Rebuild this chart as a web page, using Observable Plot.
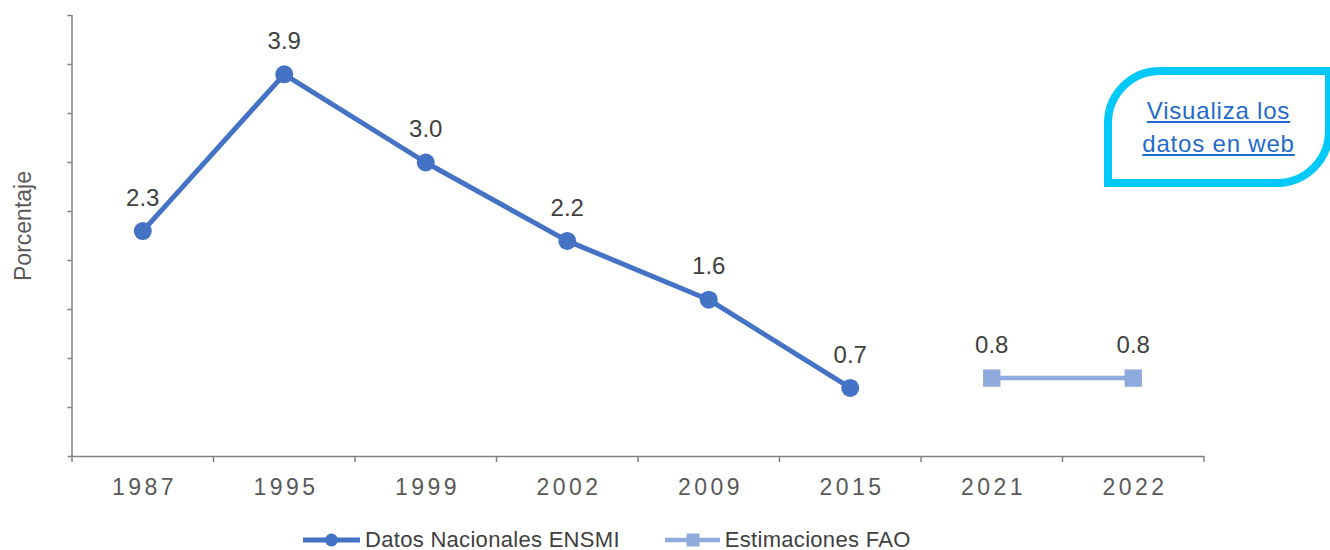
<!DOCTYPE html>
<html>
<head>
<meta charset="utf-8">
<script src="https://cdn.jsdelivr.net/npm/d3@7"></script>
<script src="https://cdn.jsdelivr.net/npm/@observablehq/plot@0.6"></script>
<style>
  html, body { margin: 0; padding: 0; background: #fff; overflow: hidden; }
  body { width: 1330px; height: 550px; position: relative; font-family: "Liberation Sans", Arial, sans-serif; }
  #chart svg { display: block; }
  #legend { position: absolute; left: 303px; top: 527px; height: 26px; display: flex; align-items: center; font-size: 22px; color: #404040; letter-spacing: 0.3px; }
  #legend .item { display: flex; align-items: center; }
  #legend .item svg { display: block; margin-right: 5px; }
  #webbox { position: absolute; left: 1104px; top: 67px; width: 229px; height: 120px; box-sizing: border-box;
    border: 8px solid #00C8F8; border-top-left-radius: 56px; border-bottom-right-radius: 56px;
    display: flex; flex-direction: column; align-items: center; justify-content: center; }
  #webbox a { color: #1F6BC8; font-size: 24px; line-height: 33px; text-decoration: underline; letter-spacing: 0.8px; text-align: center; }
</style>
</head>
<body>
<div id="chart"></div>
<div id="legend"></div>
<div id="webbox"><a>Visualiza los<br>datos en web</a></div>
<script>
// ---- data ----
const years = ["1987", "1995", "1999", "2002", "2009", "2015", "2021", "2022"];
const ensmiYears = ["1987", "1995", "1999", "2002", "2009", "2015"];
const ensmiValues = [2.3, 3.9, 3.0, 2.2, 1.6, 0.7];
const faoYears = ["2021", "2022"];
const faoValues = [0.8, 0.8];
const yTicks = [0, 0.5, 1, 1.5, 2, 2.5, 3, 3.5, 4, 4.5];
const seriesNames = ["Datos Nacionales ENSMI", "Estimaciones FAO"];
const yLabel = "Porcentaje";

// ---- derived tables ----
const ensmi = ensmiYears.map((y, i) => ({idx: years.indexOf(y), v: ensmiValues[i]}));
const fao = faoYears.map((y, i) => ({idx: years.indexOf(y), v: faoValues[i]}));
const centers = years.map((_, i) => i);
const bounds = years.map((_, i) => i - 0.5).concat([years.length - 0.5]);

const c1 = "#4472C4", c2 = "#8FAADC", axisColor = "#808080";

const plot = Plot.plot({
  width: 1330,
  height: 527,
  marginLeft: 71.5,
  marginRight: 126.5,
  marginTop: 15,
  marginBottom: 71,
  style: {fontFamily: "'Liberation Sans', Arial, sans-serif", background: "#fff"},
  x: {domain: [-0.5, years.length - 0.5]},
  y: {domain: [0, 4.5]},
  marks: [
    Plot.axisY({ticks: yTicks, tickSize: 4, tickFormat: () => "", stroke: axisColor, strokeWidth: 1.5,
      label: yLabel, labelAnchor: "center", labelArrow: "none", labelOffset: 57, fontSize: 23, color: "#595959"}),
    Plot.axisX({ticks: bounds, tickSize: 6, tickFormat: () => "", stroke: axisColor, strokeWidth: 1.5, label: null}),
    Plot.axisX({ticks: centers, tickSize: 0, tickPadding: 22, tickFormat: i => years[i], fontSize: 23, fill: "#595959", label: null}),
    Plot.ruleY([0], {stroke: axisColor, strokeWidth: 1.5}),
    Plot.ruleX([-0.5], {stroke: axisColor, strokeWidth: 1.5}),
    Plot.line(ensmi, {x: "idx", y: "v", stroke: c1, strokeWidth: 5}),
    Plot.dot(ensmi, {x: "idx", y: "v", r: 9, fill: c1, stroke: "none"}),
    Plot.line(fao, {x: "idx", y: "v", stroke: c2, strokeWidth: 4.5}),
    Plot.dot(fao, {x: "idx", y: "v", r: 9.8, symbol: "square", fill: c2, stroke: "none"}),
    Plot.text(ensmi.concat(fao), {x: "idx", y: "v", text: d => d.v.toFixed(1), dy: -33, fontSize: 24, fill: "#404040"})
  ]
});
document.getElementById("chart").appendChild(plot);
d3.select(plot).selectAll('g[aria-label="x-axis tick label"] text').attr("letter-spacing", 3.5).attr("dx", 1.75);
const yl = d3.select(plot).select('g[aria-label="y-axis label"]');
if (!yl.empty()) yl.attr("transform", (yl.attr("transform") || "") + " translate(0,-10)");

// ---- legend ----
const legend = d3.select("#legend");
const it1 = legend.append("div").attr("class", "item").style("margin-right", "45px");
const s1 = it1.append("svg").attr("width", 57).attr("height", 20);
s1.append("line").attr("x1", 0).attr("x2", 57).attr("y1", 10).attr("y2", 10).attr("stroke", c1).attr("stroke-width", 5).attr("stroke-linecap", "round");
s1.append("circle").attr("cx", 28.5).attr("cy", 10).attr("r", 6.5).attr("fill", c1);
it1.append("span").text(seriesNames[0]);
const it2 = legend.append("div").attr("class", "item");
const s2 = it2.append("svg").attr("width", 55).attr("height", 20);
s2.append("line").attr("x1", 0).attr("x2", 55).attr("y1", 10).attr("y2", 10).attr("stroke", c2).attr("stroke-width", 4.5).attr("stroke-linecap", "round");
s2.append("rect").attr("x", 21.5).attr("y", 3.5).attr("width", 13).attr("height", 13).attr("fill", c2);
it2.append("span").text(seriesNames[1]);
</script>
</body>
</html>
